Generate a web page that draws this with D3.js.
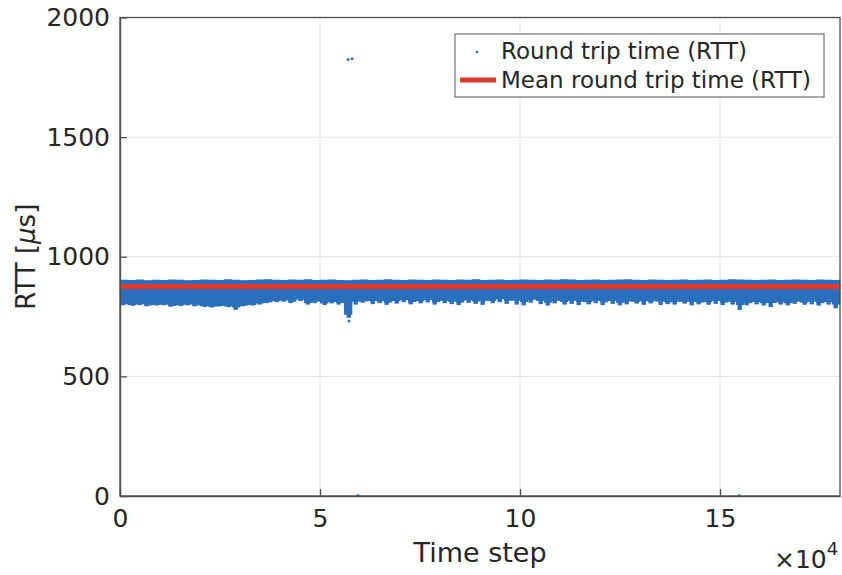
<!DOCTYPE html>
<html>
<head>
<meta charset="utf-8">
<script src="https://cdn.jsdelivr.net/npm/d3@7"></script>
<style>
  body { margin: 0; background: #fff; }
  svg { font-family: "DejaVu Sans", sans-serif; }
</style>
</head>
<body>
<div id="chart"></div>
<script>
// RTT per time step, summarised in bins of 2000 steps
const binSize = 2000;

// upper edge of the point cloud per bin
const rttTop = [
  904, 903, 905, 902, 904, 903, 905, 904, 902, 903,
  905, 904, 903, 906, 904, 902, 903, 905, 906, 904,
  903, 905, 904, 906, 903, 904, 905, 903, 902, 904,
  905, 903, 904, 906, 904, 903, 905, 904, 903, 905,
  904, 903, 905, 904, 906, 903, 904, 905, 903, 904,
  905, 904, 903, 905, 904, 906, 905, 903, 904, 905,
  903, 904, 905, 906, 904, 903, 905, 904, 903, 904,
  905, 903, 904, 905, 903, 904, 906, 905, 904, 903,
  904, 905, 903, 904, 905, 904, 903, 905, 904, 903
];

// lower end of the dense (solid) part per bin
const rttCore = [
  803, 800, 804, 799, 801, 802, 797, 800, 803, 799,
  796, 794, 797, 795, 796, 798, 801, 808, 812, 818,
  822, 816, 825, 812, 818, 810, 815, 812, 768, 822,
  818, 825, 820, 816, 823, 826, 818, 821, 828, 819,
  824, 820, 817, 826, 821, 829, 823, 832, 827, 830,
  822, 830, 826, 818, 824, 820, 826, 822, 817, 823,
  819, 825, 816, 822, 818, 826, 820, 824, 816, 821,
  818, 823, 815, 819, 825, 817, 821, 815, 813, 819,
  815, 820, 817, 813, 819, 816, 821, 814, 818, 813
];

// lowest sparse samples per bin
const rttLow = [
  797, 795, 798, 793, 796, 797, 791, 794, 797, 793,
  790, 788, 792, 789, 778, 793, 796, 800, 806, 810,
  812, 806, 815, 800, 806, 798, 805, 800, 745, 800,
  808, 802, 806, 799, 804, 810, 801, 805, 809, 800,
  806, 802, 798, 807, 803, 799, 806, 810, 803, 800,
  797, 808, 802, 796, 805, 800, 803, 798, 801, 806,
  798, 803, 797, 801, 804, 799, 805, 798, 802, 800,
  804, 797, 801, 799, 803, 798, 800, 778, 797, 801,
  796, 790, 800, 797, 803, 799, 801, 796, 800, 785
];

// isolated samples far from the band
const outlierStep = [57000, 58000, 57250, 59500, 154750];
const outlierRtt = [1824, 1828, 731, 2, 2];

const meanRtt = 876;

const xTicks = [0, 50000, 100000, 150000];
const yTicks = [0, 500, 1000, 1500, 2000];

const blue = '#2b6fbc';
const red = '#e0392c';

const width = 842, height = 575;
const margin = { top: 17.5, right: 2, bottom: 79, left: 120 };

const svg = d3.select('#chart').append('svg')
  .attr('width', width)
  .attr('height', height);

const x = d3.scaleLinear().domain([0, 180000]).range([margin.left, width - margin.right]);
const y = d3.scaleLinear().domain([0, 2000]).range([height - margin.bottom, margin.top]);

// grid
svg.append('g').selectAll('line.gx')
  .data(xTicks.slice(1))
  .join('line')
  .attr('x1', d => x(d)).attr('x2', d => x(d))
  .attr('y1', y(0)).attr('y2', y(2000))
  .attr('stroke', '#e3e3e3').attr('stroke-width', 1);
svg.append('g').selectAll('line.gy')
  .data(yTicks.slice(1, -1))
  .join('line')
  .attr('x1', x(0)).attr('x2', x(180000))
  .attr('y1', d => y(d)).attr('y2', d => y(d))
  .attr('stroke', '#e3e3e3').attr('stroke-width', 1);

// the RTT cloud
const bins = rttTop.map((t, i) => ({ i, s: i * binSize, top: t, core: rttCore[i], low: rttLow[i] }));
const band = svg.append('g');
band.selectAll('rect.core')
  .data(bins)
  .join('rect')
  .attr('x', d => x(d.s))
  .attr('width', d => x(d.s + binSize) - x(d.s) + 0.3)
  .attr('y', d => y(d.top))
  .attr('height', d => y(d.core) - y(d.top))
  .attr('fill', blue);
// sparse samples below the dense part: a few thin spikes per bin
band.selectAll('rect.spike')
  .data(bins)
  .join('rect')
  .attr('x', d => x(d.s) + [0.5, 2.5, 1.5][d.i % 3])
  .attr('width', d => (x(d.s + binSize) - x(d.s)) * 0.55)
  .attr('y', d => y(d.core) - 0.5)
  .attr('height', d => y(d.low) - y(d.core) + 0.5)
  .attr('fill', blue);
band.selectAll('rect.half')
  .data(bins)
  .join('rect')
  .attr('x', d => x(d.s))
  .attr('width', d => x(d.s + binSize) - x(d.s) + 0.3)
  .attr('y', d => y(d.core) - 0.5)
  .attr('height', d => (y(d.low) - y(d.core)) * 0.45 + 0.5)
  .attr('fill', blue);

svg.append('g').selectAll('circle')
  .data(outlierStep.map((s, i) => [s, outlierRtt[i]]))
  .join('circle')
  .attr('cx', d => x(d[0]))
  .attr('cy', d => y(d[1]))
  .attr('r', 1.5)
  .attr('fill', blue);

// mean line
svg.append('line')
  .attr('x1', x(0)).attr('x2', x(180000))
  .attr('y1', y(meanRtt)).attr('y2', y(meanRtt))
  .attr('stroke', red).attr('stroke-width', 5);

// axes box
const axisColor = '#4d4d4d';
svg.append('rect')
  .attr('x', x(0)).attr('y', y(2000))
  .attr('width', x(180000) - x(0)).attr('height', y(0) - y(2000))
  .attr('fill', 'none').attr('stroke', axisColor).attr('stroke-width', 1.3);

const xAxis = svg.append('g')
  .attr('transform', `translate(0,${y(0)})`)
  .call(d3.axisBottom(x).tickValues(xTicks).tickFormat(d => d / 10000).tickSizeInner(-7).tickSizeOuter(0).tickPadding(13));
const yAxis = svg.append('g')
  .attr('transform', `translate(${x(0)},0)`)
  .call(d3.axisLeft(y).tickValues(yTicks).tickFormat(d3.format('d')).tickSizeInner(-7).tickSizeOuter(0).tickPadding(10));

[xAxis, yAxis].forEach(g => {
  g.select('.domain').attr('stroke', axisColor).attr('stroke-width', 1.3);
  g.selectAll('.tick line').attr('stroke', axisColor).attr('stroke-width', 1.3);
  g.selectAll('.tick text')
    .attr('fill', '#262626')
    .style('font-family', '"DejaVu Sans", sans-serif')
    .style('font-size', '25px');
});
xAxis.selectAll('.tick text').attr('dy', '0.71em');

// axis labels
svg.append('text')
  .attr('x', (x(0) + x(180000)) / 2).attr('y', 562)
  .attr('text-anchor', 'middle')
  .attr('fill', '#262626')
  .style('font-size', '27px')
  .text('Time step');

const yl = svg.append('text')
  .attr('transform', `translate(35,${(y(0) + y(2000)) / 2}) rotate(-90)`)
  .attr('text-anchor', 'middle')
  .attr('fill', '#262626')
  .style('font-size', '26px');
yl.append('tspan').text('RTT [');
yl.append('tspan').style('font-style', 'italic').text('\u03bc');
yl.append('tspan').text('s]');

const ex = svg.append('text')
  .attr('x', 774).attr('y', 568)
  .attr('fill', '#262626')
  .style('font-size', '25px');
ex.append('tspan').text('\u00d710');
ex.append('tspan').attr('dy', -13).style('font-size', '18px').text('4');

// legend
const lg = svg.append('g');
lg.append('rect')
  .attr('x', 455).attr('y', 34).attr('width', 369).attr('height', 63)
  .attr('fill', '#fff').attr('stroke', '#555').attr('stroke-width', 1);
lg.append('circle').attr('cx', 477).attr('cy', 52).attr('r', 1.3).attr('fill', blue);
lg.append('line')
  .attr('x1', 460).attr('x2', 496).attr('y1', 80).attr('y2', 80)
  .attr('stroke', red).attr('stroke-width', 5);
const legendNames = ['Round trip time (RTT)', 'Mean round trip time (RTT)'];
lg.selectAll('text.lab')
  .data(legendNames)
  .join('text')
  .attr('x', 501)
  .attr('y', (d, i) => 59 + i * 29)
  .attr('fill', '#262626')
  .style('font-size', '23px')
  .text(d => d);
</script>
</body>
</html>
